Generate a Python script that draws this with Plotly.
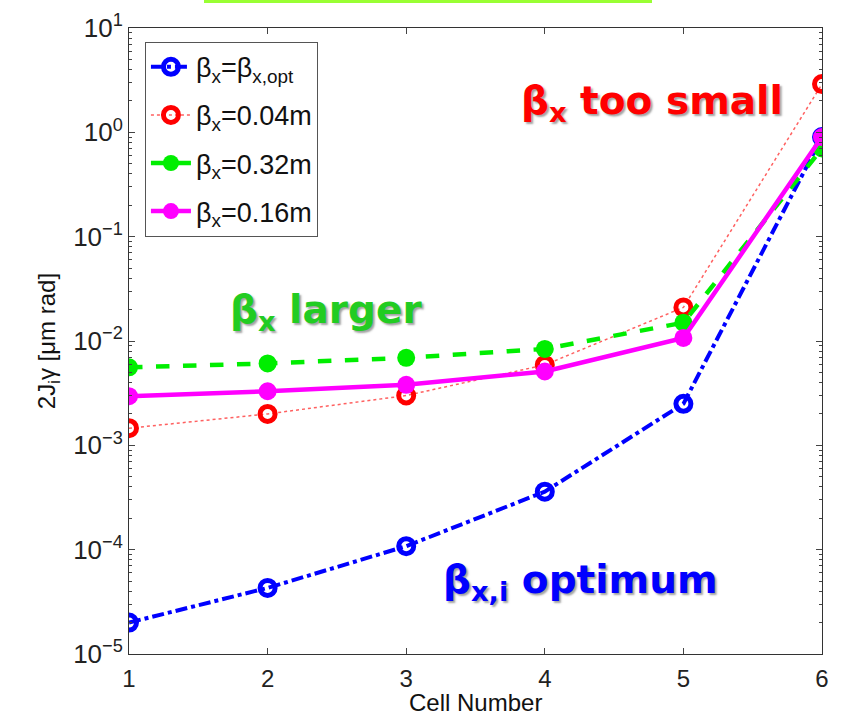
import plotly.graph_objects as go

cells = [1, 2, 3, 4, 5, 6]
beta_opt = [2.0e-5, 4.3e-5, 1.08e-4, 3.6e-4, 2.5e-3, 0.9]
beta_004 = [1.46e-3, 2.0e-3, 3.0e-3, 5.9e-3, 0.021, 2.9]
beta_032 = [5.6e-3, 6.1e-3, 6.9e-3, 8.4e-3, 0.015, 0.7]
beta_016 = [2.96e-3, 3.3e-3, 3.8e-3, 5.1e-3, 0.0107, 0.9]

y_tickvals = [1e-5, 1e-4, 1e-3, 1e-2, 1e-1, 1e0, 1e1]
y_ticktext = ["10<sup>−5</sup>", "10<sup>−4</sup>", "10<sup>−3</sup>", "10<sup>−2</sup>",
              "10<sup>−1</sup>", "10<sup>0</sup>", "10<sup>1</sup>"]

names = ["β<sub>x</sub>=β<sub>x,opt</sub>", "β<sub>x</sub>=0.04m",
         "β<sub>x</sub>=0.32m", "β<sub>x</sub>=0.16m"]

fig = go.Figure()
fig.add_trace(go.Scatter(x=cells, y=beta_opt, name=names[0], mode="lines+markers", legendgroup="a",
                         line=dict(color="#0000ff", width=4, dash="dashdot"),
                         marker=dict(symbol="circle-open", size=15, color="#0000ff", line=dict(width=5))))
fig.add_trace(go.Scatter(x=cells, y=beta_004, name=names[1], mode="lines+markers", legendgroup="b",
                         line=dict(color="#ff6060", width=1.5, dash="dot"),
                         marker=dict(symbol="circle-open", size=15, color="#ff0000", line=dict(width=5))))
fig.add_trace(go.Scatter(x=cells, y=beta_032, name=names[2], mode="lines+markers", legendgroup="c",
                         line=dict(color="#00ee00", width=4.5, dash="dash"),
                         marker=dict(symbol="circle", size=18, color="#00ee00")))
fig.add_trace(go.Scatter(x=cells, y=beta_016, name=names[3], mode="lines+markers", legendgroup="d",
                         line=dict(color="#ff00ff", width=4.5),
                         marker=dict(symbol="circle", size=18, color="#ff00ff")))

fig.update_xaxes(range=[1, 6], tickvals=cells, ticks="inside", ticklen=6, mirror="ticks",
                 showline=True, linecolor="#333", linewidth=1, showgrid=False, zeroline=False,
                 tickfont=dict(family="Liberation Sans, Arial", size=24, color="#222"),
                 ticklabelstandoff=3, automargin=False)
fig.update_yaxes(type="log", range=[-5, 1], tickvals=y_tickvals, ticktext=y_ticktext,
                 ticks="inside", ticklen=6, mirror="ticks",
                 minor=dict(ticks="inside", ticklen=3, showgrid=False, dtick="D1"),
                 showline=True, linecolor="#333", linewidth=1, showgrid=False, zeroline=False,
                 tickfont=dict(family="Liberation Sans, Arial", size=26, color="#222"), automargin=False,
                 title=dict(text="2J<sub>i</sub>γ [μm rad]", font=dict(family="Liberation Sans, Arial", size=24, color="#111"),
                            standoff=10))

ann_font = "Comic Sans MS, DejaVu Sans, Verdana"
anns = [
    ("β<sub>x</sub> too small", 652, 103, "#ff0000"),
    ("β<sub>x</sub> larger", 326, 312, "#22cc22"),
    ("β<sub>x,i</sub> optimum", 580, 582, "#0000ff"),
]
annotations = []
for txt, px, py, col in anns:
    fx = (px - 129) / 693
    fy = 1 - (py - 28) / 626
    annotations.append(dict(text="<b>" + txt + "</b>", x=fx, y=fy, xref="paper", yref="paper",
                            xanchor="center", yanchor="middle", showarrow=False,
                            font=dict(family=ann_font, size=39, color=col,
                                      shadow="2px 2px 2px rgba(100,100,100,0.6)")))
# x-axis title
annotations.append(dict(text="Cell Number", x=0.5, y=-(702 - 654) / 626, xref="paper", yref="paper",
                        xanchor="center", yanchor="middle", showarrow=False,
                        font=dict(family="Liberation Sans, Arial", size=24, color="#111")))

fig.update_layout(
    width=843, height=717,
    margin=dict(l=129, r=21, t=28, b=63),
    paper_bgcolor="white", plot_bgcolor="white",
    annotations=annotations,
    legend=dict(x=0.023, y=0.978, xanchor="left", yanchor="top",
                bordercolor="#555", borderwidth=1, bgcolor="white",
                font=dict(family="Liberation Sans, Arial", size=27, color="#111"),
                itemwidth=40, tracegroupgap=10),
    shapes=[dict(type="rect", xref="paper", yref="paper",
                 x0=(204 - 129) / 693, x1=(652 - 129) / 693,
                 y0=1 + 25 / 626, y1=1 + 28.5 / 626,
                 fillcolor="#99ff33", line=dict(width=0))],
)

fig.write_html("out.html")
